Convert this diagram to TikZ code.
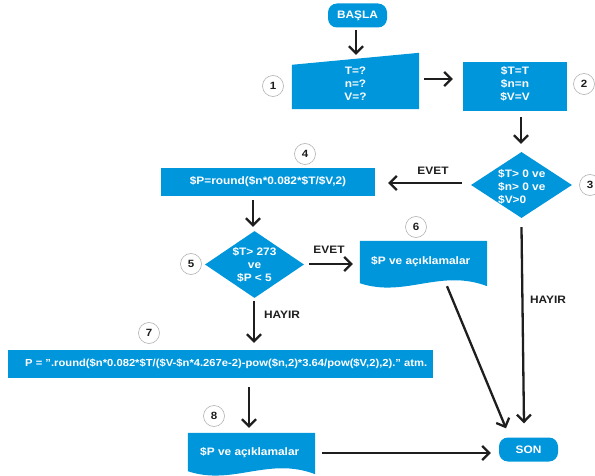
\documentclass[tikz,border=0pt]{standalone}
\usepackage{fontspec}
\setmainfont{Liberation Sans}[FakeStretch=1.1]
\usetikzlibrary{arrows.meta,shapes.geometric,calc}
\definecolor{fblue}{HTML}{0096DB}
\definecolor{ink}{HTML}{1E1E1E}
\begin{document}
\begin{tikzpicture}[x=1pt,y=-1pt,
  every node/.style={font=\fontsize{10.8}{13}\selectfont\bfseries, inner sep=0pt},
  wtext/.style={text=white, align=center},
  term/.style={fill=fblue, text=white, rounded corners=9pt, minimum width=59pt, minimum height=24pt},
  rbox/.style={fill=fblue, text=white, align=center},
  holder/.style={inner sep=0pt},
  dia/.style={diamond, fill=fblue, inner sep=0pt},
  num/.style={circle, draw=gray!60, fill=white, line width=0.6pt, minimum size=21pt, inner sep=0pt, text=ink, font=\fontsize{10.5}{12}\selectfont\bfseries},
  arr/.style={-{Straight Barb[length=7pt,width=14pt]}, line width=2.3pt, draw=ink},
  lbl/.style={text=ink}
]
\useasboundingbox (0,0) rectangle (595,476);
\clip (0,0) rectangle (595,476);

% start
\node[term] (start) at (357.5,15.5) {BAŞLA};

% input 1
\node[holder, minimum width=127pt, minimum height=56pt] (in1) at (355.5,81) {};
\fill[fblue] (in1.south west) -- ($(in1.north west)+(0,12)$) -- (in1.north east) -- (in1.south east) -- cycle;
\node[wtext] (in1t) at (355.5,84) {T=?\\n=?\\V=?};

% box 2
\node[rbox, minimum width=104pt, minimum height=49pt] (b2) at (515,86.5) {};
\node[wtext] (b2t) at (515,84) {\$T=T\\\$n=n\\\$V=V};

% diamond 3
\node[dia, minimum width=101pt, minimum height=66pt] (d3) at (521.5,185) {};
\node[wtext, align=left, anchor=west] (d3t) at (498,187) {\$T> 0 ve\\\$n> 0 ve\\\$V>0};

% box 4
\node[rbox, minimum width=214pt, minimum height=28pt] (b4) at (268,182) {\$P=round(\$n*0.082*\$T/\$V,2)};

% diamond 5
\node[dia, minimum width=99pt, minimum height=67pt] (d5) at (254.5,264.5) {};
\node[wtext] (d5t) at (254.5,265) {\$T> 273\\ve\\\$P < 5};

% document 6
\node[holder, minimum width=127pt, minimum height=44pt] (doc6) at (423.5,263) {};
\fill[fblue] (doc6.north west) -- (doc6.north east) -- ($(doc6.south east)+(0,1)$)
  .. controls ($(doc6.south east)+(-47,-17)$) and ($(doc6.south west)+(45,13)$) .. ($(doc6.south west)+(0,-2)$) -- cycle;
\node[wtext, anchor=west] (doc6t) at (371,262) {\$P ve açıklamalar};

% box 7
\node[rbox, minimum width=425pt, minimum height=28pt] (b7) at (220.5,364) {};
\node[wtext, anchor=west, font=\fontsize{10.2}{13}\selectfont\bfseries] (b7t) at (25,364) {P = ".round(\$n*0.082*\$T/(\$V-\$n*4.267e-2)-pow(\$n,2)*3.64/pow(\$V,2),2)." atm.};

% document 8
\node[holder, minimum width=127pt, minimum height=40pt] (doc8) at (251.5,453) {};
\fill[fblue] (doc8.north west) -- (doc8.north east) -- ($(doc8.south east)+(0,1)$)
  .. controls ($(doc8.south east)+(-47,-17)$) and ($(doc8.south west)+(45,13)$) .. ($(doc8.south west)+(0,-2)$) -- cycle;
\node[wtext, anchor=west] (doc8t) at (200,453) {\$P ve açıklamalar};

% end
\node[term] (son) at (528.5,449.5) {SON};

% numbers
\node[num] (n1) at (273,86) {1};
\node[num] (n2) at (584,84) {2};
\node[num] (n3) at (590,185) {3};
\node[num] (n4) at (305,154) {4};
\node[num] (n5) at (191,264) {5};
\node[num] (n6) at (416,227) {6};
\node[num] (n7) at (149,333) {7};
\node[num] (n8) at (214,416) {8};

% connectors
\draw[arr] ($(start.south)+(-1.5,2)$) -- ($(in1.north)+(0.5,2)$);
\draw[arr] ($(in1.east)+(5,-2)$) -- ($(b2.west)+(-10,-7.5)$);
\draw[arr] ($(b2.south)+(6,6)$) -- ($(d3.north)+(-0.5,-8)$);
\draw[arr] ($(d3.west)+(-9,-2)$) -- ($(b4.east)+(13,1)$);
\draw[arr] ($(b4.south)+(-15,4)$) -- ($(d5.north)+(-1.5,-4)$);
\draw[arr] ($(d5.east)+(5,-0.5)$) -- ($(doc6.west)+(-7,1)$);
\draw[arr] ($(d5.south)+(-0.5,3)$) -- ($(b7.north)+(33.5,-7)$);
\draw[arr] ($(d3.south)+(0,9)$) -- ($(son.north)+(-4.5,-14)$);
\draw[arr] ($(doc6.south)+(23.5,1)$) -- ($(son.north)+(-22.5,-9)$);
\draw[arr] ($(b7.south)+(28.5,9)$) -- ($(doc8.north)+(-2.5,-5)$);
\draw[arr] ($(doc8.east)+(7,0)$) -- ($(son.west)+(-8,3.5)$);

% labels
\node[lbl] (l1) at (433,171) {EVET};
\node[lbl] (l2) at (329,250) {EVET};
\node[lbl] (l3) at (282,315) {HAYIR};
\node[lbl] (l4) at (548,300) {HAYIR};
\end{tikzpicture}
\end{document}
